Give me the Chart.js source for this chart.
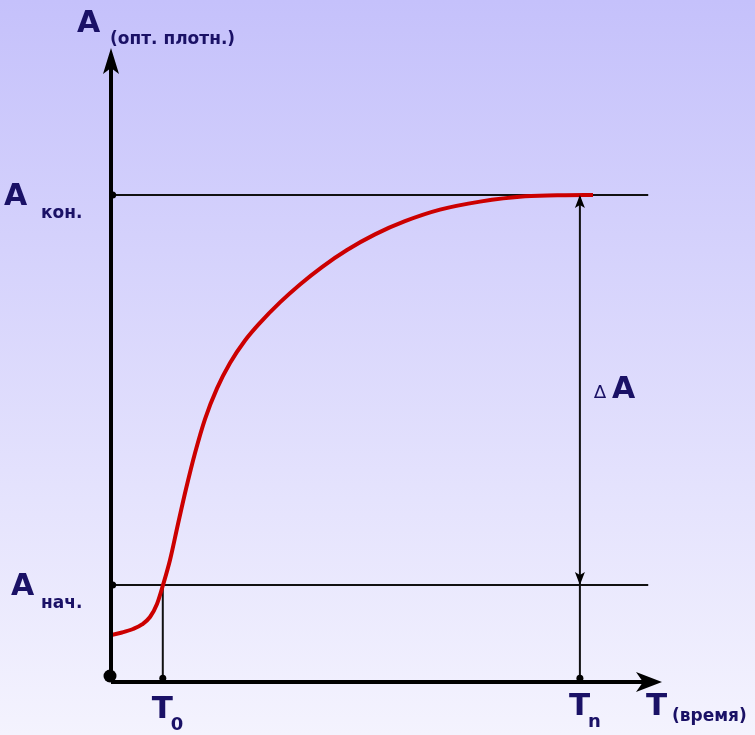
<!DOCTYPE html>
<html>
<head>
<meta charset="utf-8">
<script src="https://cdn.jsdelivr.net/npm/chart.js@4/dist/chart.umd.min.js"></script>
<style>
  body { margin: 0; background: #ffffff; }
  canvas { display: block; }
</style>
</head>
<body>
<canvas id="grafico" width="755" height="735"></canvas>
<script>
// Кривая оптической плотности (условные единицы, 0..100 по обеим осям)
const curveT = [0, 2.00, 4.00, 5.63, 7.08, 8.35, 9.44, 10.71, 12.16, 13.61, 15.25, 17.06, 19.24, 21.60, 24.32, 27.04, 30.67, 34.30, 38.29, 42.83, 47.91, 53.36, 59.71, 66.97, 75.14, 82.40, 87.48];
const curveA = [7.41, 7.81, 8.36, 9.07, 10.25, 12.30, 15.30, 19.24, 24.92, 30.44, 36.12, 41.48, 46.31, 50.31, 53.86, 56.65, 59.87, 62.70, 65.45, 68.13, 70.60, 72.68, 74.50, 75.77, 76.62, 76.79, 76.81];

// Характерные уровни и моменты времени
const levelNames = ['кон.', 'нач.'];
const levelValues = [76.8, 15.3];
const timeNames = ['0', 'n'];
const timeValues = [9.4, 85.1];
const lineEnd = 97.5;

const NAVY = '#1a1166';
const FONT = '"DejaVu Sans", Verdana, sans-serif';

function pts(xs, ys) {
    return xs.map((x, i) => ({ x: x, y: ys[i] }));
}

const datasets = [];

// Горизонтальные линии уровней
levelValues.forEach(v => {
    datasets.push({
        data: [{ x: 0, y: v }, { x: lineEnd, y: v }],
        borderColor: '#111111', borderWidth: 2, pointRadius: 0, order: 3
    });
});
// Вертикальные линии времени
datasets.push({
    data: [{ x: timeValues[0], y: 0 }, { x: timeValues[0], y: levelValues[1] }],
    borderColor: '#111111', borderWidth: 2, pointRadius: 0, order: 3
});
datasets.push({
    data: [{ x: timeValues[1], y: 0 }, { x: timeValues[1], y: levelValues[0] }],
    borderColor: '#111111', borderWidth: 2, pointRadius: 0, order: 3
});
// Кривая
datasets.push({
    data: pts(curveT, curveA),
    borderColor: '#cc0000', borderWidth: 4, pointRadius: 0,
    cubicInterpolationMode: 'monotone', order: 1
});
// Точки на осях
datasets.push({
    data: [{ x: 0.3, y: levelValues[0] }, { x: 0.3, y: levelValues[1] },
           { x: timeValues[0], y: 0.6 }, { x: timeValues[1], y: 0.6 }],
    pointRadius: 3.5, pointBackgroundColor: '#000', pointBorderWidth: 0,
    showLine: false, clip: false, order: 0
});

function arrow(ctx, x, y, dx, dy, len, half, notch) {
    const px = -dy, py = dx;
    ctx.beginPath();
    ctx.moveTo(x, y);
    ctx.lineTo(x - dx * len + px * half, y - dy * len + py * half);
    ctx.lineTo(x - dx * (len - notch), y - dy * (len - notch));
    ctx.lineTo(x - dx * len - px * half, y - dy * len - py * half);
    ctx.closePath();
    ctx.fill();
}

function text(ctx, s, x, y, size, bold) {
    ctx.font = (bold ? 'bold ' : '') + size + 'px ' + FONT;
    ctx.fillText(s, x, y);
}

const fondo = {
    id: 'fondo',
    beforeDraw(chart) {
        const ctx = chart.ctx;
        const g = ctx.createLinearGradient(0, 0, 0, chart.height);
        g.addColorStop(0, '#c5c1fb');
        g.addColorStop(1, '#f4f3fe');
        ctx.save();
        ctx.fillStyle = g;
        ctx.fillRect(0, 0, chart.width, chart.height);
        ctx.restore();
    }
};

const ejes = {
    id: 'ejes',
    afterDatasetsDraw(chart) {
        const ctx = chart.ctx;
        const xs = chart.scales.x, ys = chart.scales.y;
        const x0 = xs.getPixelForValue(0), y0 = ys.getPixelForValue(0);
        const xTop = ys.getPixelForValue(100), xRight = xs.getPixelForValue(100);
        ctx.save();
        ctx.fillStyle = '#000';
        ctx.strokeStyle = '#000';
        ctx.lineWidth = 4;
        ctx.beginPath();
        ctx.moveTo(x0, y0);
        ctx.lineTo(x0, xTop + 15);
        ctx.moveTo(x0, y0);
        ctx.lineTo(xRight - 15, y0);
        ctx.stroke();
        arrow(ctx, x0, xTop, 0, -1, 26, 8, 6);
        arrow(ctx, xRight, y0, 1, 0, 26, 10, 7);

        // точка в начале координат
        ctx.beginPath();
        ctx.arc(x0 - 1, y0 - 6, 6.5, 0, Math.PI * 2);
        ctx.fill();

        // стрелки ΔA
        const xn = xs.getPixelForValue(timeValues[1]);
        arrow(ctx, xn, ys.getPixelForValue(levelValues[0]), 0, -1, 13, 5, 3);
        arrow(ctx, xn, ys.getPixelForValue(levelValues[1]), 0, 1, 13, 5, 3);

        // подписи
        ctx.fillStyle = NAVY;
        ctx.textBaseline = 'alphabetic';
        text(ctx, 'A', x0 - 34, xTop - 16, 30, true);
        text(ctx, '(опт. плотн.)', x0 - 1, xTop - 4, 17, true);

        const offs = [[4, 10], [11, 10]];
        levelValues.forEach((v, i) => {
            const y = ys.getPixelForValue(v);
            text(ctx, 'A', offs[i][0], y + offs[i][1], 30, true);
            text(ctx, levelNames[i], 41, y + 23, 17, true);
        });

        timeValues.forEach((v, i) => {
            const x = xs.getPixelForValue(v);
            text(ctx, 'T', x - 11, y0 + 36 - i * 3, 31, true);
            text(ctx, timeNames[i], x + 8, y0 + 48 - i * 3, 18, true);
        });
        text(ctx, 'T', xRight - 16, y0 + 33, 31, true);
        text(ctx, '(время)', xRight + 10, y0 + 39, 17, true);

        const ym = (ys.getPixelForValue(levelValues[0]) + ys.getPixelForValue(levelValues[1])) / 2;
        text(ctx, '∆', xn + 14, ym + 8, 18, false);
        text(ctx, 'A', xn + 32, ym + 8, 30, true);
        ctx.restore();
    }
};

new Chart(document.getElementById('grafico'), {
    type: 'line',
    data: { datasets: datasets },
    options: {
        responsive: false,
        animation: false,
        devicePixelRatio: 1,
        layout: { padding: { left: 111, right: 93, top: 48, bottom: 53 } },
        scales: {
            x: { type: 'linear', min: 0, max: 100, display: false },
            y: { type: 'linear', min: 0, max: 100, display: false }
        },
        plugins: { legend: { display: false }, tooltip: { enabled: false } },
        elements: { point: { hoverRadius: 0 } }
    },
    plugins: [fondo, ejes]
});
</script>
</body>
</html>
